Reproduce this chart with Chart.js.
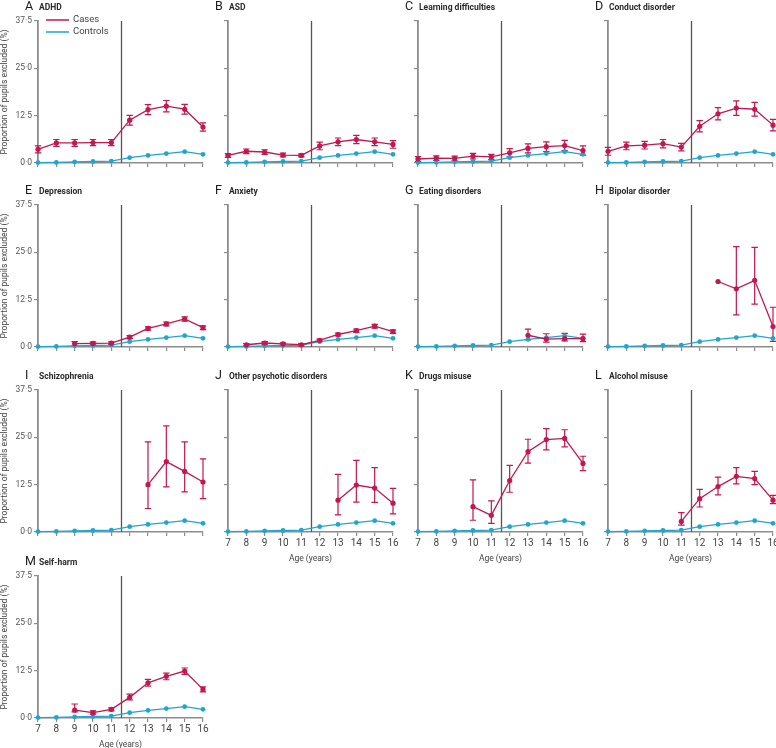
<!DOCTYPE html>
<html>
<head>
<meta charset="utf-8">
<script src="https://cdn.jsdelivr.net/npm/chart.js@4/dist/chart.umd.min.js"></script>
<style>
  html, body { margin: 0; padding: 0; background: #fff; }
  body { width: 776px; height: 748px; position: relative; overflow: hidden;
         font-family: Roboto, "Liberation Sans", sans-serif; }
  canvas { position: absolute; }
  .ttl { position: absolute; white-space: nowrap; color: #1a1a1a; line-height: 14px; }
  .ttl .let { display: inline-block; width: 14px; font-size: 12.5px; font-weight: 400; }
  .ttl .nam { font-size: 8.5px; font-weight: 700; color: #2a2a2a; }
</style>
</head>
<body>
<script>
// ---------------- data ----------------
const AGES = [7, 8, 9, 10, 11, 12, 13, 14, 15, 16];
const Y_TICKS = [0, 12.5, 25, 37.5];
const Y_TICK_LABELS = ['0·0', '12·5', '25·0', '37·5'];
const CUTOFF_AGE = 11.5;
const X_TITLE = 'Age (years)';
const Y_TITLE = 'Proportion of pupils excluded (%)';
const SERIES_LABELS = ['Cases', 'Controls'];

const PANEL_LETTERS = ['A','B','C','D','E','F','G','H','I','J','K','L','M'];
const PANEL_NAMES = ['ADHD','ASD','Learning difficulties','Conduct disorder','Depression','Anxiety',
  'Eating disorders','Bipolar disorder','Schizophrenia','Other psychotic disorders',
  'Drugs misuse','Alcohol misuse','Self-harm'];

const CONTROLS = [0.1, 0.15, 0.3, 0.4, 0.5, 1.4, 2.0, 2.5, 3.0, 2.3];

const ADHD    = [3.6, 5.3, 5.3, 5.4, 5.4, 11.3, 14.1, 15.0, 14.2, 9.5];
const ADHD_LO = [2.7, 4.4, 4.4, 4.6, 4.6, 10.0, 12.8, 13.5, 12.9, 8.4];
const ADHD_HI = [4.5, 6.2, 6.2, 6.2, 6.2, 12.6, 15.4, 16.5, 15.5, 10.6];

const ASD    = [2.0, 3.1, 2.9, 2.1, 2.0, 4.5, 5.6, 6.2, 5.6, 4.9];
const ASD_LO = [1.5, 2.5, 2.3, 1.6, 1.6, 3.5, 4.6, 5.1, 4.6, 3.9];
const ASD_HI = [2.5, 3.7, 3.5, 2.6, 2.4, 5.5, 6.6, 7.3, 6.6, 5.9];

const LEARN    = [1.05, 1.3, 1.2, 1.8, 1.6, 2.7, 3.85, 4.3, 4.6, 3.3];
const LEARN_LO = [0.4, 0.7, 0.6, 1.05, 0.9, 1.6, 2.65, 3.0, 3.25, 2.1];
const LEARN_HI = [1.7, 1.9, 1.8, 2.55, 2.3, 3.8, 5.05, 5.6, 5.95, 4.5];

const CONDUCT    = [3.1, 4.5, 4.7, 5.1, 4.2, 9.7, 13.0, 14.5, 14.2, 10.0];
const CONDUCT_LO = [2.05, 3.5, 3.7, 4.0, 3.2, 8.2, 11.4, 12.6, 12.4, 8.5];
const CONDUCT_HI = [4.15, 5.5, 5.7, 6.2, 5.2, 11.2, 14.6, 16.4, 16.0, 11.5];

const DEPRESSION    = [null, null, 0.9, 0.95, 1.0, 2.6, 4.9, 6.1, 7.4, 5.1];
const DEPRESSION_LO = [null, null, 0.4, 0.55, 0.65, 2.2, 4.45, 5.6, 6.85, 4.6];
const DEPRESSION_HI = [null, null, 1.4, 1.35, 1.35, 3.0, 5.35, 6.6, 7.95, 5.6];

const ANXIETY    = [null, 0.6, 1.05, 0.8, 0.6, 1.75, 3.3, 4.3, 5.5, 4.05];
const ANXIETY_LO = [null, 0.3, 0.7, 0.5, 0.3, 1.4, 2.9, 3.85, 5.0, 3.6];
const ANXIETY_HI = [null, 0.9, 1.4, 1.1, 0.9, 2.1, 3.7, 4.75, 6.0, 4.5];

const EATING    = [null, null, null, null, null, null, 3.1, 2.1, 2.2, 2.2];
const EATING_LO = [null, null, null, null, null, null, 1.85, 1.3, 1.6, 1.4];
const EATING_HI = [null, null, null, null, null, null, 4.7, 3.5, 3.6, 3.4];

const BIPOLAR    = [null, null, null, null, null, null, 17.3, 15.35, 17.6, 5.4];
const BIPOLAR_LO = [null, null, null, null, null, null, null, 8.5, 11.3, 1.5];
const BIPOLAR_HI = [null, null, null, null, null, null, null, 26.5, 26.3, 10.5];

const SCHIZO    = [null, null, null, null, null, null, 12.5, 18.6, 16.0, 13.2];
const SCHIZO_LO = [null, null, null, null, null, null, 6.2, 11.9, 10.6, 8.8];
const SCHIZO_HI = [null, null, null, null, null, null, 23.8, 28.0, 23.8, 19.3];

const PSYCHOTIC    = [null, null, null, null, null, null, 8.4, 12.4, 11.6, 7.6];
const PSYCHOTIC_LO = [null, null, null, null, null, null, 4.5, 7.9, 7.8, 4.8];
const PSYCHOTIC_HI = [null, null, null, null, null, null, 15.2, 18.9, 17.0, 11.5];

const DRUGS    = [null, null, null, 6.7, 4.4, 13.6, 21.2, 24.4, 24.7, 18.1];
const DRUGS_LO = [null, null, null, 3.1, 2.3, 10.5, 18.2, 21.7, 22.5, 16.2];
const DRUGS_HI = [null, null, null, 13.75, 8.2, 17.6, 24.5, 27.3, 27.0, 20.0];

const ALCOHOL    = [null, null, null, null, 2.8, 8.8, 12.0, 14.7, 14.1, 8.4];
const ALCOHOL_LO = [null, null, null, null, 1.8, 6.6, 9.8, 12.7, 12.5, 7.5];
const ALCOHOL_HI = [null, null, null, null, 5.1, 11.25, 14.5, 17.0, 16.0, 9.65];

const SELFHARM    = [null, null, 2.1, 1.4, 2.3, 5.45, 9.3, 11.0, 12.4, 7.55];
const SELFHARM_LO = [null, null, 1.6, 1.0, 1.9, 4.8, 8.4, 10.1, 11.5, 6.9];
const SELFHARM_HI = [null, null, 3.7, 1.9, 2.7, 6.3, 10.2, 11.85, 13.2, 8.2];

const CASES = [ADHD, ASD, LEARN, CONDUCT, DEPRESSION, ANXIETY, EATING, BIPOLAR, SCHIZO, PSYCHOTIC, DRUGS, ALCOHOL, SELFHARM];
const CASES_LO = [ADHD_LO, ASD_LO, LEARN_LO, CONDUCT_LO, DEPRESSION_LO, ANXIETY_LO, EATING_LO, BIPOLAR_LO, SCHIZO_LO, PSYCHOTIC_LO, DRUGS_LO, ALCOHOL_LO, SELFHARM_LO];
const CASES_HI = [ADHD_HI, ASD_HI, LEARN_HI, CONDUCT_HI, DEPRESSION_HI, ANXIETY_HI, EATING_HI, BIPOLAR_HI, SCHIZO_HI, PSYCHOTIC_HI, DRUGS_HI, ALCOHOL_HI, SELFHARM_HI];

// ---------------- style / layout ----------------
const CASE_COLOR = '#c2174f';
const CTRL_COLOR = '#1fa6cf';
const AXIS_COLOR = '#8c8c8c';
const FONT = 'Roboto, "Liberation Sans", sans-serif';
const COL_X = [0, 190, 380, 570];      // canvas left per column
const ROW_TOP = [21, 205, 390, 576];    // chart-area top per row
const Y_AXIS_W = 38, PAD_TOP = 8, PAD_RIGHT = 12, PLOT_W = 165, PLOT_H = 142, X_AXIS_H = 33;
const SHOW_X = [9, 10, 11, 12];

const refLinePlugin = {
  id: 'refLine',
  beforeDatasetsDraw(chart) {
    const { ctx, chartArea: { top, bottom }, scales: { x } } = chart;
    const px = Math.round(x.getPixelForValue(CUTOFF_AGE)) + 0.5;
    ctx.save();
    ctx.strokeStyle = '#555';
    ctx.lineWidth = 1.3;
    ctx.beginPath(); ctx.moveTo(px, top); ctx.lineTo(px, bottom); ctx.stroke();
    ctx.restore();
  }
};

const errorBarsPlugin = {
  id: 'errorBars',
  beforeDatasetsDraw(chart, args, opts) {
    if (!opts || !opts.lo) return;
    const { ctx, scales: { x, y } } = chart;
    ctx.save();
    ctx.strokeStyle = opts.color;
    ctx.lineWidth = 1.2;
    AGES.forEach((a, i) => {
      const lo = opts.lo[i], hi = opts.hi[i];
      if (lo == null || hi == null) return;
      const px = x.getPixelForValue(a), py1 = y.getPixelForValue(lo), py2 = y.getPixelForValue(hi);
      ctx.beginPath();
      ctx.moveTo(px, py1); ctx.lineTo(px, py2);
      ctx.moveTo(px - 3.2, py1); ctx.lineTo(px + 3.2, py1);
      ctx.moveTo(px - 3.2, py2); ctx.lineTo(px + 3.2, py2);
      ctx.stroke();
    });
    ctx.restore();
  }
};

const panelLegendPlugin = {
  id: 'panelLegend',
  afterDraw(chart, args, opts) {
    if (!opts || !opts.show) return;
    const { ctx, chartArea: { left, top } } = chart;
    ctx.save();
    ctx.font = '9.5px ' + FONT;
    ctx.textBaseline = 'middle';
    chart.data.datasets.forEach((ds, i) => {
      const yy = top - 1 + i * 12;
      ctx.strokeStyle = ds.borderColor; ctx.lineWidth = 1.5;
      ctx.beginPath(); ctx.moveTo(left + 8, yy); ctx.lineTo(left + 31, yy); ctx.stroke();
      ctx.fillStyle = '#444';
      ctx.fillText(ds.label, left + 35, yy);
    });
    ctx.restore();
  }
};

PANEL_NAMES.forEach((name, idx) => {
  const col = idx % 4, row = Math.floor(idx / 4);
  const showY = col === 0, showX = SHOW_X.includes(idx);
  const cv = document.createElement('canvas');
  const W = Y_AXIS_W + PLOT_W + PAD_RIGHT, H = PAD_TOP + PLOT_H + X_AXIS_H;
  cv.width = W; cv.height = H;
  cv.style.left = COL_X[col] + 'px';
  cv.style.top = (ROW_TOP[row] - PAD_TOP) + 'px';
  cv.style.width = W + 'px'; cv.style.height = H + 'px';
  document.body.appendChild(cv);

  const ttl = document.createElement('div');
  ttl.className = 'ttl';
  ttl.style.left = (COL_X[col] + Y_AXIS_W - 13) + 'px';
  ttl.style.top = (ROW_TOP[row] - 23) + 'px';
  ttl.innerHTML = '<span class="let">' + PANEL_LETTERS[idx] + '</span><span class="nam">' + name + '</span>';
  document.body.appendChild(ttl);

  new Chart(cv, {
    type: 'line',
    data: {
      datasets: [
        { label: SERIES_LABELS[0], data: AGES.map((a, i) => ({ x: a, y: CASES[idx][i] })),
          borderColor: CASE_COLOR, backgroundColor: CASE_COLOR, borderWidth: 1.3,
          pointRadius: 2.6, pointBorderWidth: 0, pointBackgroundColor: CASE_COLOR, clip: false, spanGaps: false },
        { label: SERIES_LABELS[1], data: AGES.map((a, i) => ({ x: a, y: CONTROLS[i] })),
          borderColor: CTRL_COLOR, backgroundColor: CTRL_COLOR, borderWidth: 1.3,
          pointRadius: 2.4, pointBorderWidth: 0, pointBackgroundColor: CTRL_COLOR, clip: false }
      ]
    },
    options: {
      responsive: false, animation: false, devicePixelRatio: 1,
      layout: { padding: { top: PAD_TOP, right: PAD_RIGHT, left: 0, bottom: 0 } },
      plugins: {
        legend: { display: false }, tooltip: { enabled: false },
        errorBars: { lo: CASES_LO[idx], hi: CASES_HI[idx], color: CASE_COLOR },
        panelLegend: { show: idx === 0 }
      },
      scales: {
        x: {
          type: 'linear', min: 7, max: 16,
          afterBuildTicks: s => { s.ticks = AGES.map(v => ({ value: v })); },
          afterFit: s => { s.height = X_AXIS_H; },
          grid: { display: true, drawOnChartArea: false, drawTicks: true, tickLength: 4, color: AXIS_COLOR, lineWidth: 1.2 },
          border: { display: true, color: AXIS_COLOR, width: 1.5 },
          ticks: { display: showX, autoSkip: false, maxRotation: 0, padding: 1, color: '#444',
                   font: { family: FONT, size: 10 } },
          title: { display: showX, text: X_TITLE, color: '#444', padding: { top: 0, bottom: 1 },
                   font: { family: FONT, size: 8.5 } }
        },
        y: {
          min: 0, max: 37.5,
          afterBuildTicks: s => { s.ticks = Y_TICKS.map(v => ({ value: v })); },
          afterFit: s => { s.width = Y_AXIS_W; },
          grid: { display: true, drawOnChartArea: false, drawTicks: true, tickLength: 4, color: AXIS_COLOR, lineWidth: 1.2 },
          border: { display: true, color: AXIS_COLOR, width: 1.8 },
          ticks: { display: showY, padding: 2, color: '#555', font: { family: FONT, size: 8.5 },
                   callback: (v, i) => Y_TICK_LABELS[i] },
          title: { display: showY, text: Y_TITLE, color: '#444', padding: 0,
                   font: { family: FONT, size: 8.5 } }
        }
      }
    },
    plugins: [refLinePlugin, errorBarsPlugin, panelLegendPlugin]
  });
});
</script>
</body>
</html>
